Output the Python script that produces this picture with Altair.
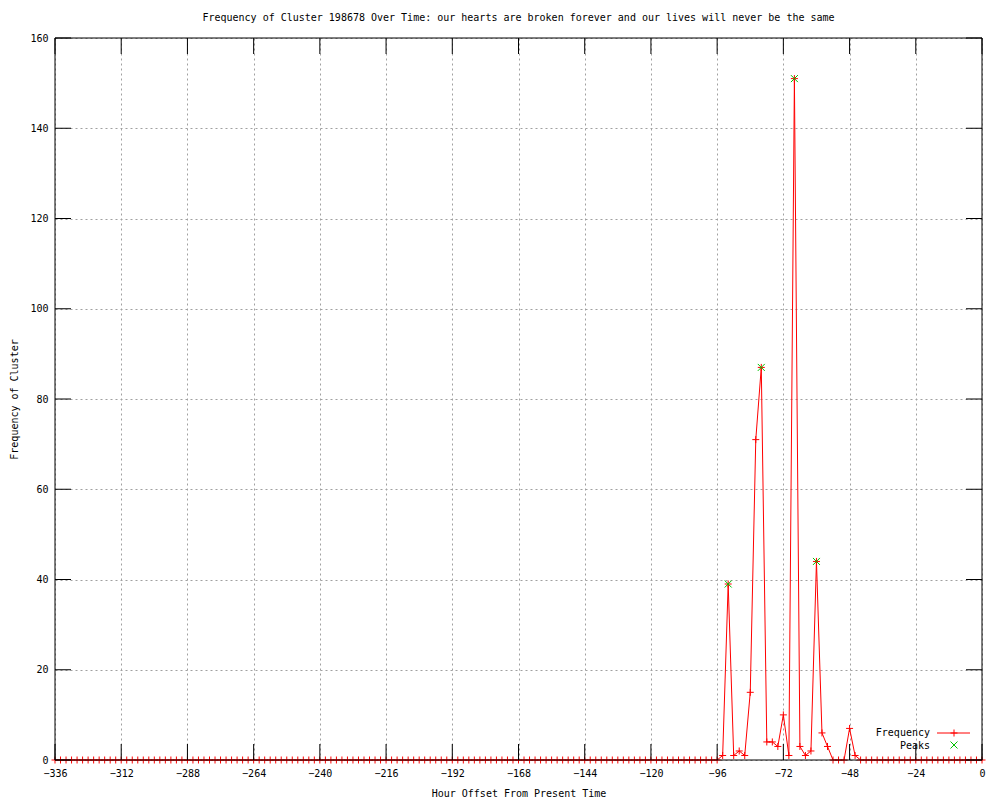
import altair as alt
import pandas as pd

# ---- data ----
hours = list(range(-336, 1, 2))
freq = ([0] * 121
        + [1, 39, 1, 2, 1, 15, 71, 87, 4, 4, 3, 10, 1, 151, 3, 1, 2, 44, 6, 3, 0, 0, 0, 7, 1]
        + [0] * 23)
peak_hours = [-92, -80, -68, -60]
peak_vals = [39, 87, 151, 44]
x_ticks = [-336, -312, -288, -264, -240, -216, -192, -168, -144, -120, -96, -72, -48, -24, 0]
y_ticks = [0, 20, 40, 60, 80, 100, 120, 140, 160]
title_text = "Frequency of Cluster 198678 Over Time: our hearts are broken forever and our lives will never be the same"

W, H = 927, 722
TICK = 16
PLUS = "M-1,0L1,0M0,-1L0,1"
XMARK = "M-1,-1L1,1M-1,1L1,-1"
FONT = "DejaVu Sans Mono"
RED = "#ff0000"
GREEN = "#00c000"

df = pd.DataFrame({"hour": hours, "freq": freq})
pk = pd.DataFrame({"hour": peak_hours, "freq": peak_vals})
xt = pd.DataFrame({"hour": x_ticks})
yt = pd.DataFrame({"freq": y_ticks})
one = pd.DataFrame({"a": [0]})

xs = alt.Scale(domain=[-336, 0], nice=False, zero=False)
ys = alt.Scale(domain=[0, 160], nice=False)

xaxis = alt.Axis(values=x_ticks, title="Hour Offset From Present Time", grid=True,
                 ticks=False, domain=False, labelPadding=8, labelFlush=False,
                 titleY=33, titleBaseline="middle")
yaxis = alt.Axis(values=y_ticks, title="Frequency of Cluster", grid=True,
                 ticks=False, domain=False, labelPadding=7, labelFlush=False,
                 titleX=-41, titleY=H / 2, titleAngle=270, titleBaseline="middle",
                 titleAlign="center")

X = alt.X("hour:Q", scale=xs, axis=xaxis)
Y = alt.Y("freq:Q", scale=ys, axis=yaxis)

line = alt.Chart(df).mark_line(color=RED, strokeWidth=1).encode(x=X, y=Y)
pts = alt.Chart(df).mark_point(shape=PLUS, size=49, color=RED, strokeWidth=1,
                               filled=False, opacity=1).encode(x=X, y=Y)
peaks = alt.Chart(pk).mark_point(shape=XMARK, size=49, color=GREEN, strokeWidth=1,
                                 filled=False, opacity=1).encode(x=X, y=Y)

xt_bottom = alt.Chart(xt).mark_rule(color="black", strokeWidth=1).encode(
    x=X, y=alt.value(H), y2=alt.value(H - TICK))
xt_top = alt.Chart(xt).mark_rule(color="black", strokeWidth=1).encode(
    x=X, y=alt.value(0), y2=alt.value(TICK))
yt_left = alt.Chart(yt).mark_rule(color="black", strokeWidth=1).encode(
    y=Y, x=alt.value(0), x2=alt.value(TICK))
yt_right = alt.Chart(yt).mark_rule(color="black", strokeWidth=1).encode(
    y=Y, x=alt.value(W), x2=alt.value(W - TICK))

border = alt.Chart(one).mark_rect(fillOpacity=0, stroke="black", strokeWidth=1).encode(
    x=alt.value(0), x2=alt.value(W), y=alt.value(0), y2=alt.value(H))

# legend (bottom right, inside)
leg_txt1 = alt.Chart(one).mark_text(text="Frequency", align="right", baseline="middle",
                                    font=FONT, fontSize=10, color="black").encode(
    x=alt.value(875), y=alt.value(695))
leg_txt2 = alt.Chart(one).mark_text(text="Peaks", align="right", baseline="middle",
                                    font=FONT, fontSize=10, color="black").encode(
    x=alt.value(875), y=alt.value(708))
leg_line = alt.Chart(one).mark_rule(color=RED, strokeWidth=1).encode(
    x=alt.value(882), x2=alt.value(915), y=alt.value(695))
leg_plus = alt.Chart(one).mark_point(shape=PLUS, size=49, color=RED, strokeWidth=1,
                                     filled=False, opacity=1).encode(
    x=alt.value(899), y=alt.value(695))
leg_x = alt.Chart(one).mark_point(shape=XMARK, size=49, color=GREEN, strokeWidth=1,
                                  filled=False, opacity=1).encode(
    x=alt.value(899), y=alt.value(707))

chart = alt.layer(
    line, pts, peaks, xt_bottom, xt_top, yt_left, yt_right, border,
    leg_txt1, leg_txt2, leg_line, leg_plus, leg_x,
).properties(
    width=W, height=H,
    title=alt.TitleParams(text=title_text, font=FONT, fontSize=10, fontWeight="normal",
                          anchor="middle", offset=10, color="black"),
    padding={"left": 47, "top": 30, "right": 10, "bottom": 40},
    autosize=alt.AutoSizeParams(type="none"),
    background="white",
).configure_view(stroke=None).configure_axis(
    labelFont=FONT, titleFont=FONT, labelFontSize=10, titleFontSize=10,
    titleFontWeight="normal", labelColor="black", titleColor="black",
    gridColor="#a0a0a0", gridDash=[2, 3], gridWidth=1, gridOpacity=1,
)

chart.save("out.html", embed_options={"renderer": "svg", "actions": False})
